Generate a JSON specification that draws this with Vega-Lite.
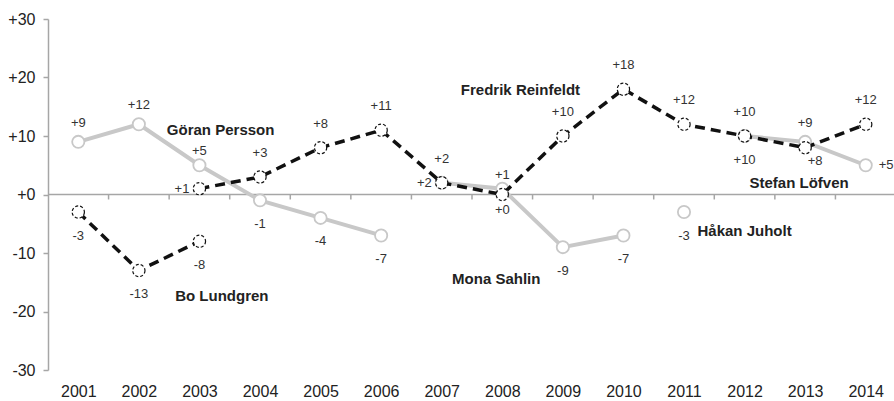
{
  "$schema": "https://vega.github.io/schema/vega-lite/v6.json",
  "width": 848,
  "height": 351,
  "autosize": {"type": "none"},
  "padding": {"left": 48, "top": 19, "right": 0, "bottom": 31},
  "background": "white",
  "config": {"view": {"stroke": null}, "font": "Liberation Sans"},
  "datasets": {
    "points": [
      {"party": "S", "leader": "Göran Persson", "year": 2001, "value": 9},
      {"party": "S", "leader": "Göran Persson", "year": 2002, "value": 12},
      {"party": "S", "leader": "Göran Persson", "year": 2003, "value": 5},
      {"party": "S", "leader": "Göran Persson", "year": 2004, "value": -1},
      {"party": "S", "leader": "Göran Persson", "year": 2005, "value": -4},
      {"party": "S", "leader": "Göran Persson", "year": 2006, "value": -7},
      {"party": "S", "leader": "Mona Sahlin", "year": 2007, "value": 2},
      {"party": "S", "leader": "Mona Sahlin", "year": 2008, "value": 1},
      {"party": "S", "leader": "Mona Sahlin", "year": 2009, "value": -9},
      {"party": "S", "leader": "Mona Sahlin", "year": 2010, "value": -7},
      {"party": "S", "leader": "Håkan Juholt", "year": 2011, "value": -3},
      {"party": "S", "leader": "Stefan Löfven", "year": 2012, "value": 10},
      {"party": "S", "leader": "Stefan Löfven", "year": 2013, "value": 9},
      {"party": "S", "leader": "Stefan Löfven", "year": 2014, "value": 5},
      {"party": "M", "leader": "Bo Lundgren", "year": 2001, "value": -3},
      {"party": "M", "leader": "Bo Lundgren", "year": 2002, "value": -13},
      {"party": "M", "leader": "Bo Lundgren", "year": 2003, "value": -8},
      {"party": "M", "leader": "Fredrik Reinfeldt", "year": 2003, "value": 1},
      {"party": "M", "leader": "Fredrik Reinfeldt", "year": 2004, "value": 3},
      {"party": "M", "leader": "Fredrik Reinfeldt", "year": 2005, "value": 8},
      {"party": "M", "leader": "Fredrik Reinfeldt", "year": 2006, "value": 11},
      {"party": "M", "leader": "Fredrik Reinfeldt", "year": 2007, "value": 2},
      {"party": "M", "leader": "Fredrik Reinfeldt", "year": 2008, "value": 0},
      {"party": "M", "leader": "Fredrik Reinfeldt", "year": 2009, "value": 10},
      {"party": "M", "leader": "Fredrik Reinfeldt", "year": 2010, "value": 18},
      {"party": "M", "leader": "Fredrik Reinfeldt", "year": 2011, "value": 12},
      {"party": "M", "leader": "Fredrik Reinfeldt", "year": 2012, "value": 10},
      {"party": "M", "leader": "Fredrik Reinfeldt", "year": 2013, "value": 8},
      {"party": "M", "leader": "Fredrik Reinfeldt", "year": 2014, "value": 12}
    ],
    "names": [
      {"name": "Göran Persson", "year": 2003.35, "value": 11.1},
      {"name": "Bo Lundgren", "year": 2003.37, "value": -17.4},
      {"name": "Fredrik Reinfeldt", "year": 2008.3, "value": 17.8},
      {"name": "Mona Sahlin", "year": 2007.9, "value": -14.4},
      {"name": "Stefan Löfven", "year": 2012.9, "value": 2.05},
      {"name": "Håkan Juholt", "year": 2012.0, "value": -6.2}
    ]
  },
  "data": {"name": "points"},
  "encoding": {
    "x": {
      "field": "year", "type": "quantitative",
      "scale": {"domain": [2000.5, 2014.5], "nice": false, "zero": false},
      "axis": {
        "values": [2001, 2002, 2003, 2004, 2005, 2006, 2007, 2008, 2009, 2010, 2011, 2012, 2013, 2014],
        "format": "d", "domain": false, "ticks": false,
        "labelFontSize": 16, "labelColor": "#222222", "labelPadding": 13,
        "labelFont": "Liberation Sans", "grid": false, "title": null
      }
    },
    "y": {
      "field": "value",
      "type": "quantitative",
      "scale": {"domain": [-30, 30], "nice": false, "zero": false},
      "axis": {
        "values": [-30, -20, -10, 0, 10, 20, 30],
        "labelExpr": "datum.value > 0 ? '+' + datum.value : (datum.value == 0 ? '+0' : '' + datum.value)",
        "grid": false,
        "title": null,
        "domainColor": "#a6a6a6",
        "domainWidth": 1.5,
        "tickColor": "#a6a6a6",
        "tickWidth": 1.5,
        "tickSize": 5,
        "labelFontSize": 16,
        "labelColor": "#222222",
        "labelPadding": 8,
        "labelFont": "Liberation Sans"
      }
    }
  },
  "layer": [
    {
      "transform": [{"filter": "datum.party == 'S' && datum.year == 2001"}],
      "mark": {"type": "rule", "color": "#a6a6a6", "strokeWidth": 1.5},
      "encoding": {
        "x": {
          "datum": 2000.5, "type": "quantitative",
          "axis": {
            "values": [2001, 2002, 2003, 2004, 2005, 2006, 2007, 2008, 2009, 2010, 2011, 2012, 2013, 2014],
            "format": "d", "domain": false, "ticks": false,
            "labelFontSize": 16, "labelColor": "#222222", "labelPadding": 13,
            "labelFont": "Liberation Sans", "grid": false, "title": null
          }
        },
        "x2": {"datum": 2014.5},
        "y": {"datum": 0, "type": "quantitative"}
      }
    },
    {
      "transform": [
        {"filter": "datum.party == 'S' && datum.year < 2014"},
        {"calculate": "datum.year + 0.5", "as": "boundary"}
      ],
      "mark": {"type": "rule", "color": "#a6a6a6", "strokeWidth": 1.5},
      "encoding": {
        "x": {
          "field": "boundary", "type": "quantitative",
          "axis": {
            "values": [2001, 2002, 2003, 2004, 2005, 2006, 2007, 2008, 2009, 2010, 2011, 2012, 2013, 2014],
            "format": "d", "domain": false, "ticks": false,
            "labelFontSize": 16, "labelColor": "#222222", "labelPadding": 13,
            "labelFont": "Liberation Sans", "grid": false, "title": null
          }
        },
        "y": {"datum": 0, "type": "quantitative"},
        "y2": {"datum": -0.85}
      }
    },
    {
      "transform": [{"filter": "datum.party == 'S'"}],
      "mark": {"type": "line", "color": "#c8c8c8", "strokeWidth": 4},
      "encoding": {"detail": {"field": "leader"}}
    },
    {
      "transform": [{"filter": "datum.party == 'S'"}],
      "mark": {"type": "point", "shape": "circle", "filled": true, "fill": "white", "stroke": "#c8c8c8", "strokeWidth": 1.8, "size": 150, "opacity": 1},
      "encoding": {}
    },
    {
      "transform": [{"filter": "datum.party == 'M'"}],
      "mark": {"type": "line", "color": "#111111", "strokeWidth": 3.5, "strokeDash": [10, 6]},
      "encoding": {"detail": {"field": "leader"}}
    },
    {
      "transform": [{"filter": "datum.party == 'M'"}],
      "mark": {"type": "point", "shape": "circle", "filled": true, "fill": "white", "stroke": "#111111", "strokeWidth": 1.2, "strokeDash": [3, 2], "size": 150, "opacity": 1},
      "encoding": {}
    },
    {
      "transform": [
        {"calculate": "datum.party + datum.year", "as": "key"},
        {"calculate": "datum.value > 0 ? '+' + datum.value : (datum.value == 0 ? '+0' : '' + datum.value)", "as": "label"},
        {"filter": "datum.party == 'S' && datum.value >= 0 && indexof(['S2003','S2007','S2008','S2012','S2014'], datum.key) < 0"}
      ],
      "mark": {"type": "text", "fontSize": 13, "color": "#333333", "dy": -19, "baseline": "middle"},
      "encoding": {"text": {"field": "label"}}
    },
    {
      "transform": [
        {"calculate": "datum.party + datum.year", "as": "key"},
        {"calculate": "datum.value > 0 ? '+' + datum.value : (datum.value == 0 ? '+0' : '' + datum.value)", "as": "label"},
        {"filter": "datum.key == 'S2003' || datum.key == 'S2008'"}
      ],
      "mark": {"type": "text", "fontSize": 13, "color": "#333333", "dy": -14, "baseline": "middle"},
      "encoding": {"text": {"field": "label"}}
    },
    {
      "transform": [
        {"calculate": "datum.party + datum.year", "as": "key"},
        {"calculate": "datum.value > 0 ? '+' + datum.value : (datum.value == 0 ? '+0' : '' + datum.value)", "as": "label"},
        {"filter": "datum.party == 'M' && datum.value > 0 && indexof(['M2003','M2013'], datum.key) < 0"}
      ],
      "mark": {"type": "text", "fontSize": 13, "color": "#333333", "dy": -24, "baseline": "middle"},
      "encoding": {"text": {"field": "label"}}
    },
    {
      "transform": [
        {"calculate": "datum.party + datum.year", "as": "key"},
        {"calculate": "datum.value > 0 ? '+' + datum.value : (datum.value == 0 ? '+0' : '' + datum.value)", "as": "label"},
        {"filter": "datum.value < 0 || datum.key == 'S2012'"}
      ],
      "mark": {"type": "text", "fontSize": 13, "color": "#333333", "dy": 23.5, "baseline": "middle"},
      "encoding": {"text": {"field": "label"}}
    },
    {
      "transform": [
        {"calculate": "datum.party + datum.year", "as": "key"},
        {"calculate": "datum.value > 0 ? '+' + datum.value : (datum.value == 0 ? '+0' : '' + datum.value)", "as": "label"},
        {"filter": "datum.key == 'M2008'"}
      ],
      "mark": {"type": "text", "fontSize": 13, "color": "#333333", "dy": 15, "baseline": "middle"},
      "encoding": {"text": {"field": "label"}}
    },
    {
      "transform": [
        {"calculate": "datum.party + datum.year", "as": "key"},
        {"calculate": "datum.value > 0 ? '+' + datum.value : (datum.value == 0 ? '+0' : '' + datum.value)", "as": "label"},
        {"filter": "datum.key == 'M2013'"}
      ],
      "mark": {"type": "text", "fontSize": 13, "color": "#333333", "dx": 10, "dy": 13, "baseline": "middle"},
      "encoding": {"text": {"field": "label"}}
    },
    {
      "transform": [
        {"calculate": "datum.party + datum.year", "as": "key"},
        {"calculate": "datum.value > 0 ? '+' + datum.value : (datum.value == 0 ? '+0' : '' + datum.value)", "as": "label"},
        {"filter": "datum.key == 'S2007' || (datum.key == 'M2003' && datum.value > 0)"}
      ],
      "mark": {"type": "text", "fontSize": 13, "color": "#333333", "dx": -10, "align": "right", "baseline": "middle"},
      "encoding": {"text": {"field": "label"}}
    },
    {
      "transform": [
        {"calculate": "datum.party + datum.year", "as": "key"},
        {"calculate": "datum.value > 0 ? '+' + datum.value : (datum.value == 0 ? '+0' : '' + datum.value)", "as": "label"},
        {"filter": "datum.key == 'S2014'"}
      ],
      "mark": {"type": "text", "fontSize": 13, "color": "#333333", "dx": 13, "align": "left", "baseline": "middle"},
      "encoding": {"text": {"field": "label"}}
    },
    {
      "data": {"name": "names"},
      "mark": {"type": "text", "fontSize": 15, "fontWeight": "bold", "color": "#222222", "align": "center", "baseline": "middle"},
      "encoding": {"text": {"field": "name"}}
    }
  ]
}
